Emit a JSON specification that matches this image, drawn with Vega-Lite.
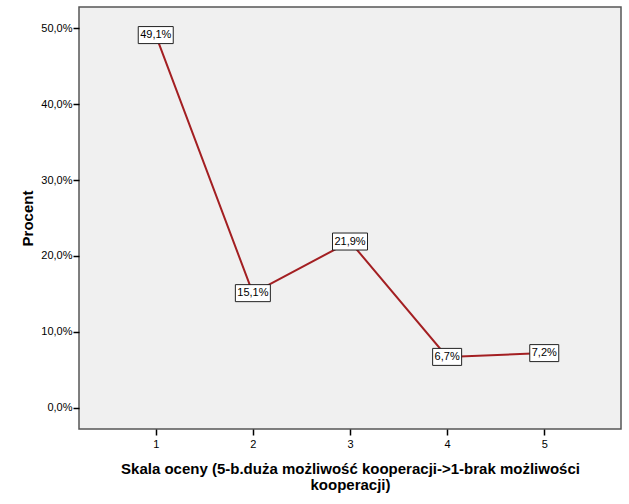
{
  "$schema": "https://vega.github.io/schema/vega-lite/v6.json",
  "autosize": {"type": "none"},
  "padding": {"left": 79, "top": 7, "right": 8, "bottom": 75},
  "width": 542,
  "height": 422,
  "background": "white",
  "config": {
    "view": {"fill": "#f0f0f0", "stroke": "#555555", "strokeWidth": 1.5},
    "font": "Liberation Sans",
    "locale": {
      "number": {"decimal": ",", "thousands": " ", "grouping": [3], "currency": ["", " zł"]}
    }
  },
  "data": {
    "values": [
      {"ocena": 1, "udzial": 0.491},
      {"ocena": 2, "udzial": 0.151},
      {"ocena": 3, "udzial": 0.219},
      {"ocena": 4, "udzial": 0.067},
      {"ocena": 5, "udzial": 0.072}
    ]
  },
  "encoding": {
    "x": {
      "field": "ocena",
      "type": "quantitative",
      "scale": {"domain": [0.21, 5.79], "nice": false, "zero": false},
      "axis": {
        "values": [1, 2, 3, 4, 5],
        "format": "d",
        "domain": false,
        "grid": false,
        "tickColor": "#000000",
        "tickSize": 6,
        "tickWidth": 1.5,
        "labelFont": "Liberation Sans",
        "labelFontSize": 11,
        "labelColor": "#000000",
        "labelPadding": 3,
        "title": ["Skala oceny (5-b.duża możliwość kooperacji->1-brak możliwości", "kooperacji)"],
        "titleFont": "Liberation Sans",
        "titleFontSize": 15,
        "titleFontWeight": "bold",
        "titleColor": "#000000",
        "titlePadding": 12,
        "titleLineHeight": 16
      }
    },
    "y": {
      "field": "udzial",
      "type": "quantitative",
      "scale": {"domain": [-0.028, 0.528], "nice": false, "zero": false},
      "axis": {
        "values": [0, 0.1, 0.2, 0.3, 0.4, 0.5],
        "format": ".1%",
        "domain": false,
        "grid": false,
        "tickColor": "#000000",
        "tickSize": 6,
        "tickWidth": 1.5,
        "labelFont": "Liberation Sans",
        "labelFontSize": 11,
        "labelColor": "#000000",
        "labelPadding": 1,
        "title": "Procent",
        "titleFont": "Liberation Sans",
        "titleFontSize": 15,
        "titleFontWeight": "bold",
        "titleColor": "#000000",
        "titlePadding": 5
      }
    }
  },
  "layer": [
    {
      "mark": {"type": "line", "color": "#a31f22", "strokeWidth": 2}
    },
    {
      "mark": {"type": "point", "filled": false, "fill": "#ffffff", "fillOpacity": 1, "stroke": "#222222", "strokeWidth": 1, "opacity": 1},
      "encoding": {
        "shape": {
          "condition": {"test": "datum.udzial < 0.1", "value": "M-1,-0.586L1,-0.586L1,0.586L-1,0.586Z"},
          "value": "M-1,-0.486L1,-0.486L1,0.486L-1,0.486Z"
        },
        "size": {
          "condition": {"test": "datum.udzial < 0.1", "value": 841},
          "value": 1225
        }
      }
    },
    {
      "mark": {"type": "text", "font": "Liberation Sans", "fontSize": 11, "color": "#000000", "align": "center", "baseline": "middle"},
      "encoding": {
        "text": {"field": "udzial", "type": "quantitative", "format": ".1%"}
      }
    }
  ]
}
